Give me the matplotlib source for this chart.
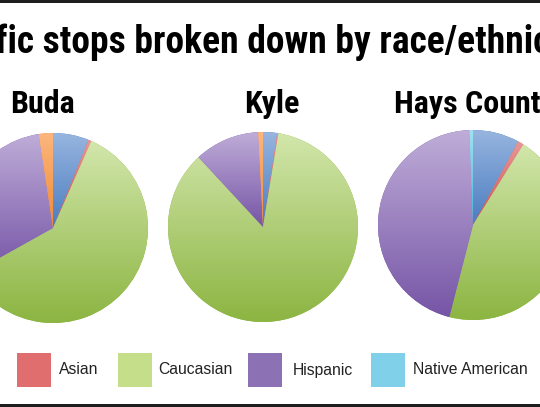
import matplotlib.pyplot as plt
import numpy as np
from matplotlib.colors import LinearSegmentedColormap
from matplotlib.patches import Rectangle

# shares (%), clockwise from 12 o'clock
groups = ["Buda", "Kyle", "Hays County"]
races = ["Black", "Asian", "Caucasian", "Hispanic", "Native American", "Other"]
buda = [6.1, 0.5, 60.3, 30.7, 0.0, 2.4]
kyle = [2.4, 0.2, 85.6, 11.1, 0.0, 0.8]
hays = [7.9, 1.0, 45.1, 45.4, 0.6, 0.0]
legend_labels = ["Asian", "Caucasian", "Hispanic", "Native American"]
title = "Traffic stops broken down by race/ethnicity"

# light (top) / dark (bottom) shade of each slice, office style gradient
shades = {
    "Black": ("#97b5df", "#4a7cc0"),
    "Asian": ("#ea9696", "#cc5252"),
    "Caucasian": ("#d2e6ab", "#8cb542"),
    "Hispanic": ("#bfadd8", "#7655a6"),
    "Native American": ("#a2e0f2", "#48b6d8"),
    "Other": ("#fcb67c", "#ef8a38"),
}
legend_colors = ["#e06e6e", "#c4de8a", "#8c72b4", "#80d0ea"]

W, H = 540, 407
cond = ["Roboto Condensed", "DejaVu Sans"]
fig = plt.figure(figsize=(W / 100, H / 100), dpi=100)
renderer = fig.canvas.get_renderer()

# pie centres / title centres in pixels
centers = [(53, 228), (263, 227), (473, 225)]
title_x = [43, 272, 474]
R = 95
pad = 1.04

for name, vals, (cx, cy), tx in zip(groups, [buda, kyle, hays], centers, title_x):
    r = R * pad
    ax = fig.add_axes([(cx - r) / W, 1 - (cy + r) / H, 2 * r / W, 2 * r / H])
    wedges, _ = ax.pie(vals, colors=[shades[k][1] for k in races],
                       startangle=90, counterclock=False, radius=1)
    grad = np.linspace(0, 1, 256).reshape(-1, 1)
    for w, v, k in zip(wedges, vals, races):
        if v <= 0:
            w.set_visible(False)
            continue
        x0, y0, x1, y1 = w.get_path().get_extents().extents
        cmap = LinearSegmentedColormap.from_list(k, [shades[k][1], shades[k][0]])
        im = ax.imshow(grad, extent=[x0, x1, y0, y1], origin="lower",
                       cmap=cmap, aspect="auto", interpolation="bilinear")
        im.set_clip_path(w)
        im.set_zorder(w.get_zorder() + 0.5)
    ax.set_xlim(-pad, pad)
    ax.set_ylim(-pad, pad)
    ax.set_aspect("equal")
    ax.axis("off")
    fig.text(tx / W, 1 - 113 / H, name, ha="center", va="baseline",
             fontsize=23, fontweight="bold", family=cond)


def text_w(s, size):
    t = fig.text(0, 0, s, fontsize=size, fontweight="bold", family=cond)
    wpx = t.get_window_extent(renderer).width
    t.remove()
    return wpx


# size the title so the visible part ("fic ... ethni") spans the width like the crop
size = 28.5
vis = title[title.index("fic"):title.index("ethni") + 5]
size = size * 538 / text_w(vis, size)
x_start = -5 - text_w("Traf", size)
fig.text(x_start / W, 1 - 53 / H, title, ha="left", va="baseline",
         fontsize=size, fontweight="bold", family=cond)

# legend
sq_x = [17, 118, 248, 371]
txt_x = [59, 158, 293, 413]
for lab, col, sx, tx in zip(legend_labels, legend_colors, sq_x, txt_x):
    fig.add_artist(Rectangle((sx / W, 1 - 387 / H), 34 / W, 34 / H,
                             transform=fig.transFigure, facecolor=col, edgecolor="none"))
    fig.text(tx / W, 1 - 370 / H, lab, ha="left", va="center",
             fontsize=11.3, family=["Liberation Sans", "DejaVu Sans"], color="#222222")

# frame lines top and bottom
for y0 in [0, 404]:
    fig.add_artist(Rectangle((0, 1 - (y0 + 3) / H), 1, 3 / H,
                             transform=fig.transFigure, facecolor="#1e1e1e", edgecolor="none"))

fig.savefig("out.png", dpi=100)
